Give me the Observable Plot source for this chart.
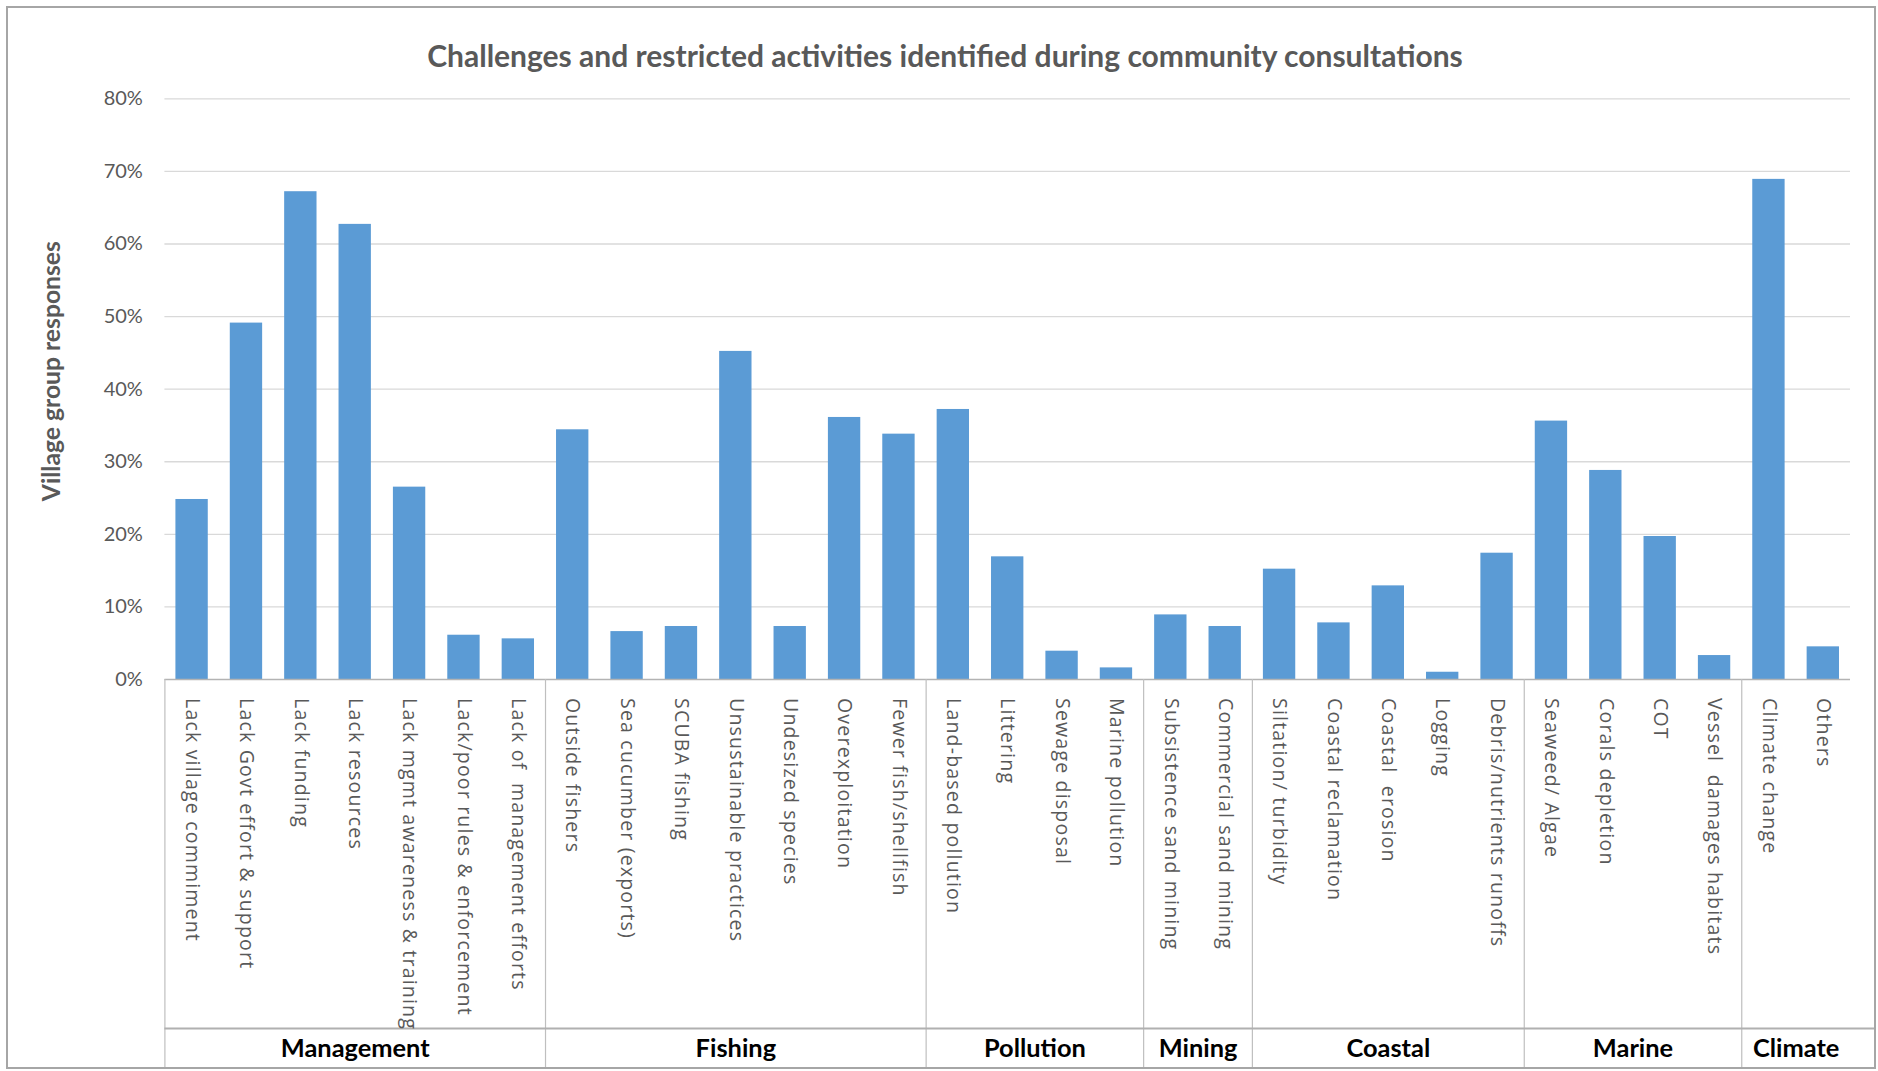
<!DOCTYPE html>
<html>
<head>
<meta charset="utf-8">
<script src="https://cdn.jsdelivr.net/npm/d3@7"></script>
<script src="https://cdn.jsdelivr.net/npm/@observablehq/plot@0.6"></script>
<style>
  html, body { margin: 0; padding: 0; background: #fff; }
  #page { position: relative; width: 1878px; height: 1071px; overflow: hidden; }
  #title {
    height: 80px; box-sizing: border-box; padding-top: 40px;
    width: 1890px; text-align: center; white-space: nowrap;
    font: bold 30px Lato, sans-serif; line-height: 1; color: #595959;
  }
  #chart svg { display: block; }
  #border {
    position: absolute; left: 6px; top: 6px; width: 1870px; height: 1063px;
    box-sizing: border-box; border: 2px solid #a6a6a6; pointer-events: none;
  }
  .cat text { letter-spacing: 1.2px; white-space: pre; }
</style>
</head>
<body>
<div id="page">
  <div id="title">Challenges and restricted activities identified during community consultations</div>
  <div id="chart"></div>
  <div id="border"></div>
</div>
<script>
// Issue categories, in display order
const categories = [
  "Lack village commiment", "Lack Govt effort & support", "Lack funding", "Lack resources",
  "Lack mgmt awareness & training", "Lack/poor rules & enforcement", "Lack of  management efforts",
  "Outside fishers", "Sea cucumber (exports)", "SCUBA fishing", "Unsustainable practices",
  "Undesized species", "Overexploitation", "Fewer fish/shellfish",
  "Land-based pollution", "Littering", "Sewage disposal", "Marine pollution",
  "Subsistence sand mining", "Commercial sand mining",
  "Siltation/ turbidity", "Coastal reclamation", "Coastal  erosion", "Logging", "Debris/nutrients runoffs",
  "Seaweed/ Algae", "Corals depletion", "COT", "Vessel  damages habitats",
  "Climate change", "Others"
];

// Share of village group responses (%)
const responses = [
  24.8, 49.1, 67.2, 62.7, 26.5, 6.1, 5.6,
  34.4, 6.6, 7.3, 45.2, 7.3, 36.1, 33.8,
  37.2, 16.9, 3.9, 1.6,
  8.9, 7.3,
  15.2, 7.8, 12.9, 1.0, 17.4,
  35.6, 28.8, 19.7, 3.3,
  68.9, 4.5
];

// Theme groups and how many categories each spans
const groupNames = ["Management", "Fishing", "Pollution", "Mining", "Coastal", "Marine", "Climate"];
const groupSizes = [7, 7, 4, 2, 5, 4, 2];

// Y axis tick values (%)
const yTicks = [0, 10, 20, 30, 40, 50, 60, 70, 80];

const rows = categories.map((name, i) => ({i, name, value: responses[i]}));

let start = 0;
const groups = groupNames.map((name, k) => {
  const g = {name, start, n: groupSizes[k]};
  start += groupSizes[k];
  return g;
});

const grey = "#595959";
const barWidth = 0.595;   // fraction of each category slot

const chart = Plot.plot({
  width: 1878,
  height: 991,
  marginLeft: 164.4,
  marginRight: 28,
  marginTop: 18.3,
  marginBottom: 392,
  x: {domain: [0, categories.length]},
  y: {domain: [0, 80]},
  style: {fontFamily: "Lato, sans-serif", background: "transparent", overflow: "visible"},
  marks: [
    Plot.gridY(yTicks.slice(1), {stroke: "#d9d9d9", strokeOpacity: 1, strokeWidth: 1.3}),
    Plot.axisY(yTicks, {
      tickSize: 0, tickPadding: 22, tickFormat: d => d + "%",
      fontSize: 20, color: grey, label: null
    }),
    Plot.text(["Village group responses"], {
      text: d => d, frameAnchor: "left", textAnchor: "middle", lineAnchor: "middle",
      rotate: -90, dx: -113, dy: -18,
      fontWeight: "bold", fontSize: 24.7, fill: grey
    }),
    Plot.rectY(rows, {
      x1: d => d.i + (1 - barWidth) / 2,
      x2: d => d.i + (1 + barWidth) / 2,
      y: "value",
      fill: "#5b9bd5"
    }),
    // baseline
    Plot.ruleY([0], {stroke: "#b3b3b3", strokeWidth: 1.5}),
    // group separators running down through the category axis
    Plot.axisX(groups.map(g => g.start), {
      tickSize: 390, tickFormat: () => "", stroke: "#bfbfbf", strokeWidth: 1.2, label: null
    }),
    // divider between category labels and group labels
    Plot.ruleY([0], {dy: 349, insetRight: -24, stroke: "#b0b0b0", strokeWidth: 2}),
    Plot.text(rows, {
      x: d => d.i + 0.5, text: "name", frameAnchor: "bottom",
      rotate: 90, textAnchor: "start", lineAnchor: "middle", dy: 18.5,
      fontSize: 19.5, fill: grey, fontFamily: "'Open Sans', sans-serif", className: "cat"
    }),
    Plot.text(groups, {
      x: d => d.start + d.n / 2, text: "name", frameAnchor: "bottom",
      textAnchor: "middle", lineAnchor: "middle", dy: 369,
      fontWeight: "bold", fontSize: 25.4, fill: "#000"
    })
  ]
});

document.getElementById("chart").appendChild(chart);
</script>
</body>
</html>
